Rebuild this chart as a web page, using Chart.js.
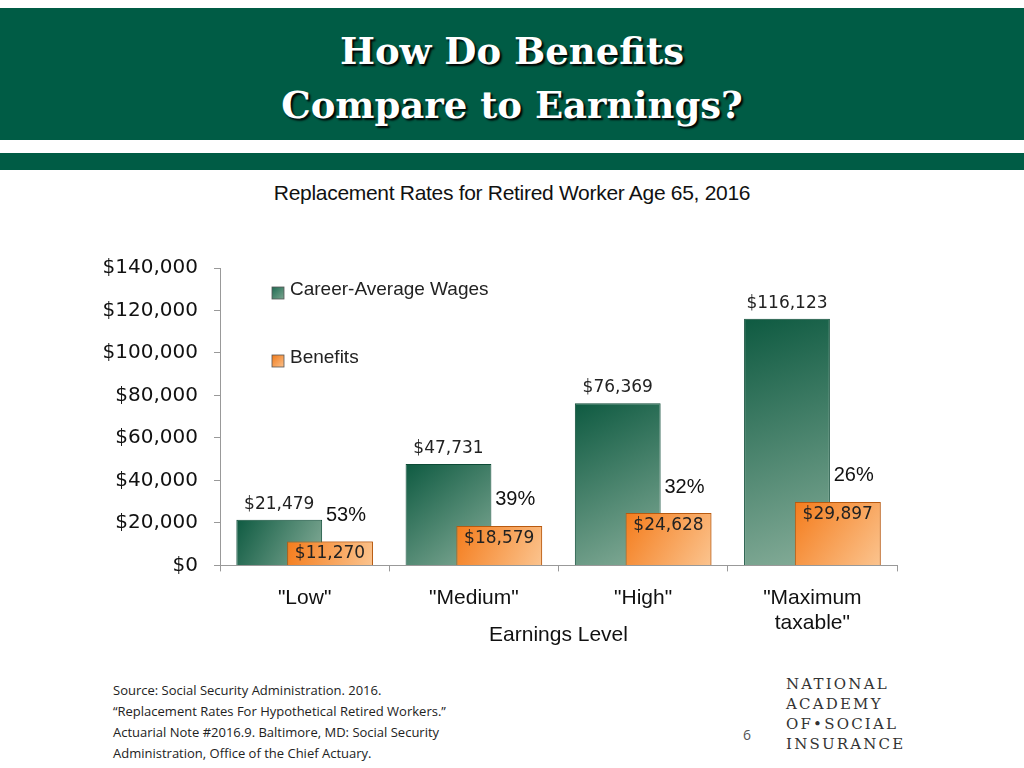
<!DOCTYPE html>
<html><head><meta charset="utf-8">
<script src="https://cdn.jsdelivr.net/npm/chart.js@4/dist/chart.umd.min.js"></script>
<style>
body{margin:0;width:1024px;height:768px;position:relative;background:#fff;font-family:"Open Sans",sans-serif;overflow:hidden}
.band{position:absolute;left:0;top:8px;width:1024px;height:132px;background:#005c45}
.band2{position:absolute;left:0;top:153px;width:1024px;height:17px;background:#005c45}
.title{position:absolute;top:24px;width:1024px;text-align:center;color:#fff;font-family:"DejaVu Serif",serif;font-size:37px;line-height:54px;text-shadow:2px 2px 2px #000;font-weight:bold}
.sub{position:absolute;top:181px;width:1024px;text-align:center;font-family:"Liberation Sans",sans-serif;font-size:21px;color:#111;letter-spacing:-0.3px}
#wrap{position:absolute;left:0;top:240px;width:920px;height:412px}
.src{position:absolute;left:113px;top:680px;font-size:13px;line-height:21px;color:#222}
.logo{position:absolute;left:786px;top:674px;font-family:"DejaVu Serif",serif;font-size:15px;line-height:20px;letter-spacing:2.2px;color:#333}
.pg{position:absolute;left:743px;top:725px;font-size:14px;color:#555}
</style></head><body>
<div class="band"></div><div class="band2"></div>
<div class="title">How Do Benefits<br>Compare to Earnings?</div>
<div class="sub">Replacement Rates for Retired Worker Age 65, 2016</div>
<div id="wrap"><canvas id="c"></canvas></div>
<div class="src">Source: Social Security Administration. 2016.<br>“Replacement Rates For Hypothetical Retired Workers.”<br>Actuarial Note #2016.9. Baltimore, MD: Social Security<br>Administration, Office of the Chief Actuary.</div>
<div class="logo">NATIONAL<br>ACADEMY<br>OF•SOCIAL<br>INSURANCE</div>
<div class="pg">6</div>
<script>
const categories = [['"Low"'], ['"Medium"'], ['"High"'], ['"Maximum', 'taxable"']];
const wages = [21479, 47731, 76369, 116123];
const benefits = [11270, 18579, 24628, 29897];
const rates = ['53%', '39%', '32%', '26%'];
const yTicks = [0, 20000, 40000, 60000, 80000, 100000, 120000, 140000];

const money = v => '$' + v.toLocaleString('en-US');

function barGrad(context, shift, dark, light) {
    const chart = context.chart;
    const a = chart.chartArea;
    const x = chart.scales.x;
    const y = chart.scales.y;
    if (!a || !x || context.dataIndex === undefined) return dark;
    const cx = x.getPixelForValue(context.dataIndex) + shift;
    const top = y.getPixelForValue(context.raw);
    const g = chart.ctx.createLinearGradient(cx - 43, top, cx + 43, a.bottom);
    g.addColorStop(0, dark);
    g.addColorStop(1, light);
    return g;
}

const labelPlugin = {
    id: 'labels',
    afterDatasetsDraw(chart) {
        const ctx = chart.ctx;
        const m0 = chart.getDatasetMeta(0).data;
        const m1 = chart.getDatasetMeta(1).data;
        // benefits bars go in front of the wage bars
        m1.forEach(b => b.draw(ctx));
        ctx.save();
        ctx.textAlign = 'center';
        ctx.fillStyle = '#222';
        m0.forEach((b, i) => {
            ctx.font = '17px "DejaVu Sans"';
            ctx.textBaseline = 'bottom';
            ctx.fillText(money(wages[i]), b.x, b.y - 7);
        });
        m1.forEach((b, i) => {
            ctx.font = '17px "DejaVu Sans"';
            ctx.fillStyle = '#222';
            ctx.textBaseline = 'top';
            ctx.fillText(money(benefits[i]), b.x, b.y + 4);
            ctx.font = '20px "Liberation Sans"';
            ctx.fillStyle = '#111';
            ctx.textBaseline = 'middle';
            ctx.fillText(rates[i], b.x + 16, b.y - 26);
        });
        // legend
        const a = chart.chartArea;
        const items = [['Career-Average Wages', '#1f6b52', '#7aa58f'], ['Benefits', '#f07a1a', '#fbc08a']];
        items.forEach((it, k) => {
            const x = a.left + 52, y = a.top + 25 + k * 68;
            const g = ctx.createLinearGradient(x, y - 6, x + 12, y + 6);
            g.addColorStop(0, it[1]); g.addColorStop(1, it[2]);
            ctx.fillStyle = g;
            ctx.fillRect(x, y - 6, 12, 12);
            ctx.strokeStyle = '#555'; ctx.lineWidth = 0.8;
            ctx.strokeRect(x, y - 6, 12, 12);
            ctx.fillStyle = '#222';
            ctx.textAlign = 'left';
            ctx.textBaseline = 'middle';
            ctx.font = '19px "Liberation Sans"';
            ctx.fillText(it[0], x + 18, y - 3);
        });
        ctx.restore();
    }
};

new Chart(document.getElementById('c'), {
    type: 'bar',
    data: {
        labels: categories,
        datasets: [
            {
                label: 'Career-Average Wages',
                data: wages,
                backgroundColor: c => barGrad(c, -25.5, '#0e5a41', '#86ad99'),
                borderColor: '#0d4b36',
                borderWidth: 1,
                barPercentage: 1.69,
                categoryPercentage: 0.6,
            },
            {
                label: 'Benefits',
                data: benefits,
                backgroundColor: c => barGrad(c, 25.5, '#f47c1c', '#fbc48f'),
                borderColor: '#b85a10',
                borderWidth: 1,
                barPercentage: 1.69,
                categoryPercentage: 0.6,
            },
        ],
    },
    options: {
        responsive: true,
        maintainAspectRatio: false,
        animation: false,
        layout: { padding: { top: 4, right: 23 } },
        plugins: {
            legend: { display: false },
            tooltip: { enabled: false },
        },
        scales: {
            x: {
                grid: { display: true, drawOnChartArea: false, offset: true, tickLength: 6, color: '#999' },
                border: { color: '#999' },
                ticks: { color: '#111', font: { size: 21, family: 'Liberation Sans' }, padding: 14 },
                title: { display: true, text: 'Earnings Level', color: '#111', font: { size: 21, family: 'Liberation Sans' }, padding: { top: -27 } },
            },
            y: {
                min: 0,
                max: 140000,
                afterFit: s => { s.width = 220; },
                afterBuildTicks: s => { s.ticks = yTicks.map(v => ({ value: v })); },
                grid: { drawOnChartArea: false, tickLength: 6, color: '#999' },
                border: { color: '#999' },
                ticks: { color: '#111', font: { size: 20, family: 'DejaVu Sans' }, padding: 16, callback: v => money(v) },
            },
        },
    },
    plugins: [labelPlugin],
});
</script>
</body></html>
